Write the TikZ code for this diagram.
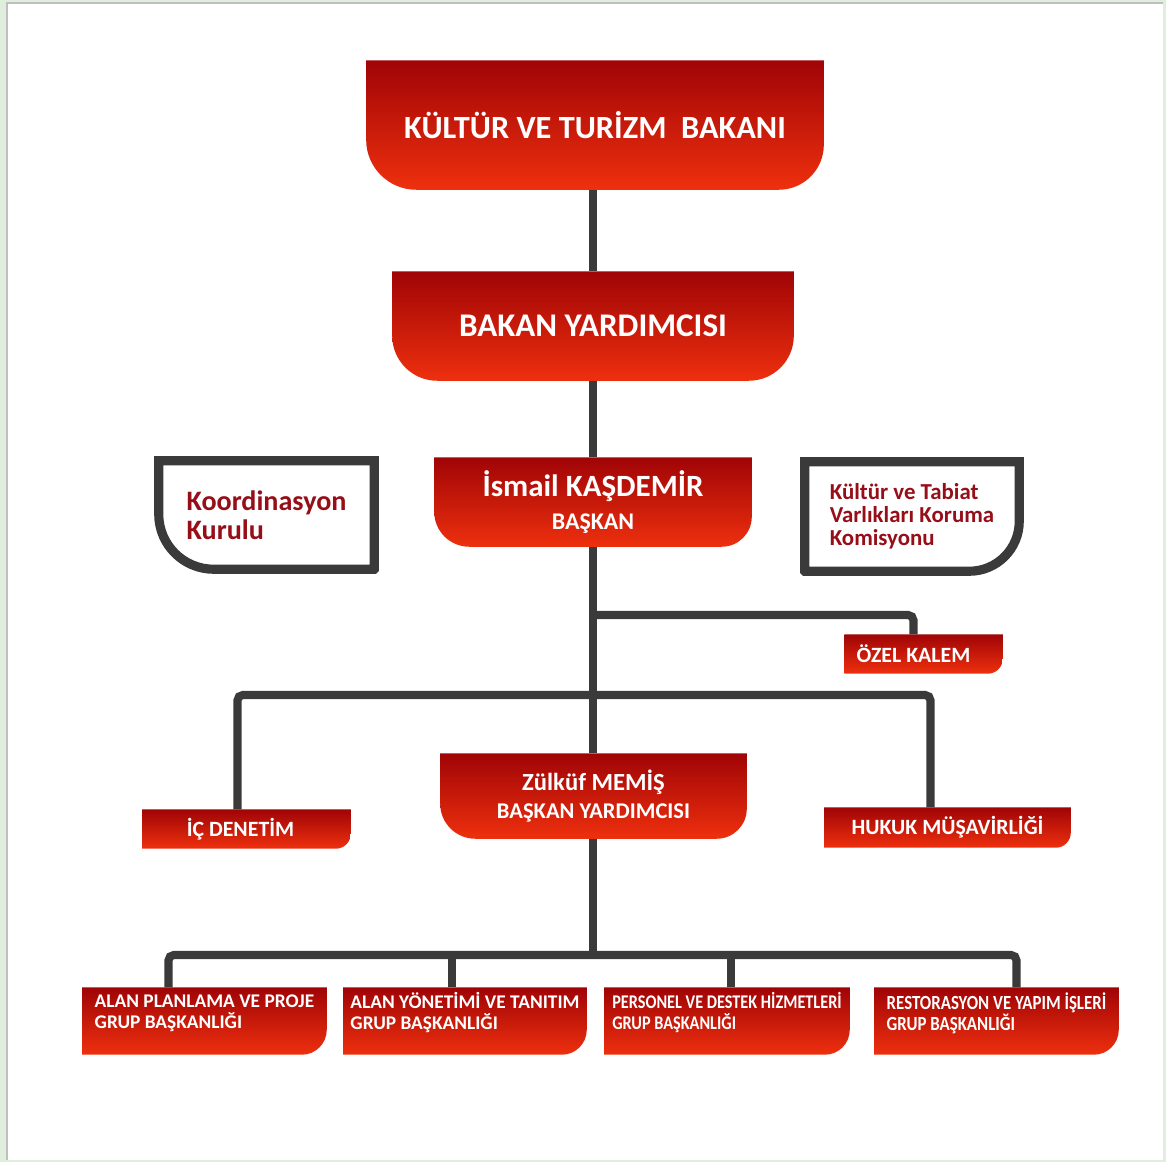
\documentclass[tikz,border=0pt]{standalone}
\usepackage{fontspec}
\setmainfont{Carlito}
\newfontfamily\narrowfont[FakeStretch=0.84]{Carlito}
\usetikzlibrary{calc,backgrounds}
\definecolor{redtop}{RGB}{160,4,6}
\definecolor{redbot}{RGB}{238,48,14}
\definecolor{linegray}{RGB}{58,58,58}
\definecolor{darktext}{RGB}{150,14,24}
\definecolor{framegreen}{RGB}{224,238,222}
\def\redshape(#1)(#2:#3){\shade[top color=redtop, bottom color=redbot] (#1.north west) -- (#1.north east) -- ([yshift=#3]#1.south east) arc[start angle=0, end angle=-90, radius=#3] -- ([xshift=#2]#1.south west) arc[start angle=270, end angle=180, radius=#2] -- cycle;}
\def\greyshape(#1)(#2:#3){\draw[line width=2.6pt, draw=linegray, fill=white] (#1.north west) -- (#1.north east) -- ([yshift=#3]#1.south east) arc[start angle=0, end angle=-90, radius=#3] -- ([xshift=#2]#1.south west) arc[start angle=270, end angle=180, radius=#2] -- cycle;}
\tikzset{
	box/.style={inner sep=0pt, text=white, align=center},
	bigtxt/.style={font=\bfseries\fontsize{9.2}{10}\selectfont},
	midtxt/.style={font=\bfseries\fontsize{6.2}{7}\selectfont},
	smalltxt/.style={font=\bfseries\fontsize{5.5}{6}\selectfont, align=left, text depth=5.5pt, minimum height=0.66cm},
	link/.style={line width=2.3pt, draw=linegray, rounded corners=1.5pt},
}

\begin{document}
\begin{tikzpicture}[x=0.01cm, y=-0.01cm]
			%%%%% START %%%%%
			\useasboundingbox (0,0) rectangle (1166,1162);
			\begin{scope}[on background layer]
				\fill[framegreen] (0,0) rectangle (1166,1162);
				\fill[white] (7,3) rectangle (1163,1160);
				\draw[black!25, line width=0.6pt] (7,1160) -- (7,3) -- (1163,3);
			\end{scope}
			
			% top of the chart
			\node[box, bigtxt, minimum width=4.56cm, minimum height=1.28cm] (bakan) at (595,125) {KÜLTÜR VE TURİZM\ \ BAKANI};
			\node[box, bigtxt, font=\bfseries\fontsize{9.4}{10}\selectfont, minimum width=4.00cm, minimum height=1.08cm] (yard) at (593,326) {BAKAN YARDIMCISI};
			\node[box, font=\bfseries\fontsize{8.8}{9.5}\selectfont, minimum width=3.16cm, minimum height=0.88cm] (baskan) at (593,502) {İsmail KAŞDEMİR\\{\fontsize{6.8}{7}\selectfont BAŞKAN}};
			
			% side boards
			\node[box, text=darktext, align=left, font=\bfseries\fontsize{8}{8.2}\selectfont, minimum width=2.14cm, minimum height=1.07cm] (koord) at (266.5,515) {Koordinasyon\\Kurulu};
			\node[box, text=darktext, align=left, font=\bfseries\fontsize{6.5}{6.6}\selectfont, minimum width=2.13cm, minimum height=1.08cm] (kurul) at (912,516.5) {Kültür ve Tabiat\\Varlıkları Koruma\\Komisyonu};
			
			% units under the head
			\node[box, midtxt, minimum width=1.57cm, minimum height=0.38cm] (ozel) at (923.5,654) {ÖZEL KALEM\hspace*{0.2cm}};
			\node[box, midtxt, minimum width=2.07cm, minimum height=0.38cm] (icd) at (246.5,829) {\hspace*{-0.12cm}İÇ DENETİM};
			\node[box, midtxt, minimum width=2.45cm, minimum height=0.39cm] (hukuk) at (947.5,827.5) {HUKUK MÜŞAVİRLİĞİ};
			\node[box, font=\bfseries\fontsize{7}{8}\selectfont, minimum width=3.05cm, minimum height=0.84cm] (yrd) at (593.5,796) {Zülküf MEMİŞ\\{\fontsize{6.4}{7}\selectfont BAŞKAN YARDIMCISI}};
			
			% group heads
			\node[box, smalltxt, minimum width=2.43cm] (grp1) at (204.5,1021) {ALAN PLANLAMA VE PROJE\\GRUP BAŞKANLIĞI};
			\node[box, smalltxt, minimum width=2.42cm] (grp2) at (465,1021) {ALAN YÖNETİMİ VE TANITIM\\GRUP BAŞKANLIĞI};
			\node[box, smalltxt, font=\narrowfont\bfseries\fontsize{5.5}{6}\selectfont, minimum width=2.44cm] (grp3) at (727,1021) {PERSONEL VE DESTEK HİZMETLERİ\\GRUP BAŞKANLIĞI};
			\node[box, smalltxt, font=\narrowfont\bfseries\fontsize{5.7}{6}\selectfont, minimum width=2.43cm] (grp4) at (996.5,1021) {RESTORASYON VE YAPIM İŞLERİ\\GRUP BAŞKANLIĞI};
			
			\begin{scope}[on background layer]
				\redshape(bakan)(0.5cm:0.45cm)
				\redshape(yard)(0.45cm:0.45cm)
				\redshape(baskan)(0.35cm:0.3cm)
				\redshape(yrd)(0.35cm:0.3cm)
				\redshape(ozel)(0.01pt:0.15cm)
				\redshape(icd)(0.01pt:0.15cm)
				\redshape(hukuk)(0.01pt:0.15cm)
				\redshape(grp1)(0.01pt:0.25cm)
				\redshape(grp2)(0.01pt:0.25cm)
				\redshape(grp3)(0.01pt:0.25cm)
				\redshape(grp4)(0.01pt:0.25cm)
				\greyshape(koord)(0.55cm:0.01pt)
				\greyshape(kurul)(0.01pt:0.5cm)
			\end{scope}
			
			% connectors
			\coordinate (jo) at (593,615);
			\coordinate (js) at (593,695);
			\coordinate (jb) at (593,955);
			
			\draw[link] (yard.north |- bakan.south) -- (yard.north);
			\draw[link] (yard.south) -- (baskan.north);
			\draw[link] (baskan.south) -- (baskan.south |- yrd.north);
			\draw[link] (jo) -| ($(ozel.north)+(-10,0)$);
			\draw[link] ($(icd.north)+(-9,0)$) |- (js) -| ($(hukuk.north)+(-17,0)$);
			\draw[link] (yrd.south -| jb) -- (jb);
			\draw[link] ($(grp1.north)+(-36,0)$) |- (jb) -| ($(grp4.north)+(20,0)$);
			\draw[link] ($(grp2.north)+(-13,0)$) -- ($(grp2.north)+(-13,-33)$);
			\draw[link] ($(grp3.north)+(4,0)$) -- ($(grp3.north)+(4,-33)$);
			
			%%%%% END %%%%%
\end{tikzpicture}
\end{document}
